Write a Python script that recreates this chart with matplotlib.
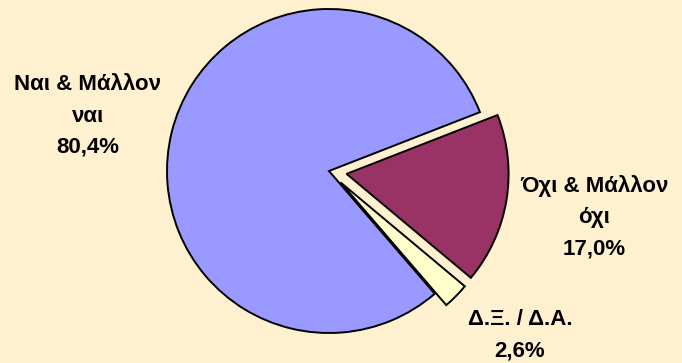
import matplotlib
matplotlib.use("Agg")
import matplotlib.pyplot as plt

# Données du graphique
labels = ["Ναι & Μάλλον\nναι", "Δ.Ξ. / Δ.Α.", "Όχι & Μάλλον\nόχι"]
values = [80.4, 2.6, 17.0]
colors = ["#9999FF", "#FFFFCC", "#993366"]
explode = [0.0, 0.1, 0.11]

W, H = 682, 363
CX, CY, R = 329, 171, 162  # centre et rayon en pixels

fig = plt.figure(figsize=(W / 100, H / 100), dpi=100, facecolor="#FFF0D0")
ax = fig.add_axes([0, 0, 1, 1])
ax.set_facecolor("#FFF0D0")

ax.pie(values, colors=colors, explode=explode, startangle=21.3,
       counterclock=True, radius=1.0,
       wedgeprops=dict(edgecolor="black", linewidth=1.4))

ax.set_aspect("auto")
ax.set_xlim(-CX / R, (W - CX) / R)
ax.set_ylim(-(H - CY) / R, CY / R)
ax.axis("off")

# Étiquettes (position en pixels)
label_pos = [(88, 116), (520, 335), (594, 217)]
for lab, val, (px, py) in zip(labels, values, label_pos):
    txt = lab + "\n" + f"{val:.1f}".replace(".", ",") + "%"
    fig.text(px / W, 1 - py / H, txt, ha="center", va="center",
             fontsize=16, fontweight="bold", family="Liberation Sans",
             linespacing=1.65)

fig.savefig("out.png", dpi=100, facecolor=fig.get_facecolor())
